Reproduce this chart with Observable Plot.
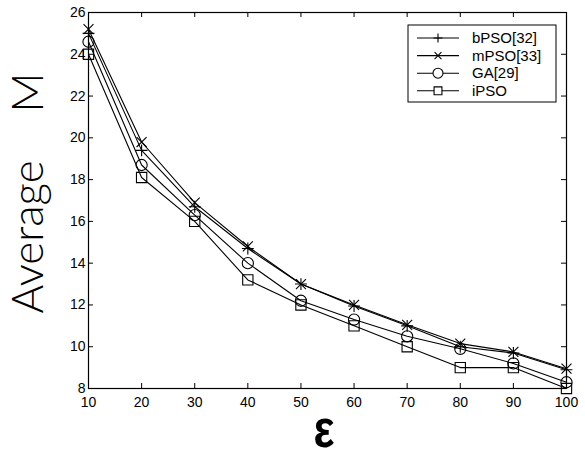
<!DOCTYPE html>
<html>
<head>
<meta charset="utf-8">
<script src="https://cdn.jsdelivr.net/npm/d3@7"></script>
<script src="https://cdn.jsdelivr.net/npm/@observablehq/plot@0.6"></script>
<style>
  html, body { margin: 0; padding: 0; background: #fff; }
  #chart { position: relative; width: 585px; height: 457px; }
</style>
</head>
<body>
<div id="chart"></div>
<script>
// ---- data ----
const epsilon = [10, 20, 30, 40, 50, 60, 70, 80, 90, 100];
const bPSO = [25.0, 19.4, 16.7, 14.7, 13.0, 11.95, 11.0, 10.0, 9.7, 8.9];
const mPSO = [25.2, 19.8, 16.9, 14.8, 13.0, 12.0, 11.05, 10.15, 9.75, 8.95];
const GA   = [24.6, 18.7, 16.3, 14.0, 12.2, 11.3, 10.5, 9.9, 9.2, 8.3];
const iPSO = [24.0, 18.1, 16.0, 13.2, 12.0, 11.0, 10.0, 9.0, 9.0, 8.0];
const seriesNames = ["bPSO[32]", "mPSO[33]", "GA[29]", "iPSO"];
const seriesSymbols = ["plus", "times", "circle", "square"];
const seriesR = [3.9, 4.6, 5.6, 5.8];
const legendR = [3.0, 3.2, 5.0, 5.0];
const xTicks = [10, 20, 30, 40, 50, 60, 70, 80, 90, 100];
const yTicks = [8, 10, 12, 14, 16, 18, 20, 22, 24, 26];
const xLabel = "\u03b5";
const yLabel = "Average\u00a0\u00a0\u00a0\u00a0M";

const values = [bPSO, mPSO, GA, iPSO];
const rows = [];
values.forEach((vals, s) => vals.forEach((v, i) => rows.push({series: seriesNames[s], x: epsilon[i], y: v})));

const W = 585, H = 457;
const mL = 88, mR = 19, mT = 12, mB = 69;
const innerW = W - mL - mR, innerH = H - mT - mB;
const font = "Liberation Sans, Arial, Helvetica, sans-serif";

const marks = [
  Plot.tickX(xTicks, {x: d => d, insetTop: innerH - 5, stroke: "black", strokeWidth: 1}),
  Plot.tickX(xTicks, {x: d => d, insetBottom: innerH - 5, stroke: "black", strokeWidth: 1}),
  Plot.tickY(yTicks, {y: d => d, insetRight: innerW - 5, stroke: "black", strokeWidth: 1}),
  Plot.tickY(yTicks, {y: d => d, insetLeft: innerW - 5, stroke: "black", strokeWidth: 1}),
  Plot.axisX({ticks: xTicks, tickSize: 0, tickPadding: 9, tickFormat: d => String(d), label: null, fontSize: 14, fill: "black"}),
  Plot.axisY({ticks: yTicks, tickSize: 0, tickPadding: 3, tickFormat: d => String(d), label: null, fontSize: 14, fill: "black"}),
];
seriesNames.forEach((name, s) => {
  const data = rows.filter(d => d.series === name);
  marks.push(Plot.line(data, {x: "x", y: "y", stroke: "black", strokeWidth: 1.1}));
  marks.push(Plot.dot(data, {x: "x", y: "y", symbol: () => seriesSymbols[s], r: seriesR[s], stroke: "black", fill: "none", strokeWidth: 1.1}));
});
marks.push(Plot.frame({stroke: "black", strokeWidth: 1.2}));

const plot = Plot.plot({
  width: W, height: H,
  marginLeft: mL, marginRight: mR, marginTop: mT, marginBottom: mB,
  style: {fontFamily: font, background: "white", color: "black", overflow: "visible"},
  x: {domain: [10, 100]},
  y: {domain: [8, 26]},
  marks
});
document.getElementById("chart").appendChild(plot);

const svg = d3.select(plot);
// axis titles
svg.append("text")
  .attr("transform", "translate(27,193) rotate(-90)")
  .attr("text-anchor", "middle").attr("dy", "0.358em")
  .attr("font-family", "Lato, 'Liberation Sans', Arial, sans-serif").attr("font-weight", 300)
  .attr("font-size", 44).attr("fill", "black")
  .text(yLabel);
svg.append("text")
  .attr("transform", "translate(324,447) scale(0.82,1)")
  .attr("text-anchor", "middle")
  .attr("font-family", font).attr("font-size", 54).attr("font-weight", "bold").attr("fill", "black")
  .text(xLabel);

// legend
const lg = svg.append("g").attr("font-family", font).attr("font-size", 15).attr("text-anchor", "start");
lg.append("rect").attr("x", 408).attr("y", 25).attr("width", 148).attr("height", 77)
  .attr("fill", "white").attr("stroke", "black").attr("stroke-width", 1);
const symGen = {plus: d3.symbolPlus, times: d3.symbolTimes, circle: d3.symbolCircle, square: d3.symbolSquare2};
seriesNames.forEach((name, s) => {
  const y = 38 + s * 17.6;
  lg.append("line").attr("x1", 417).attr("x2", 459).attr("y1", y).attr("y2", y).attr("stroke", "black").attr("stroke-width", 1.1);
  const r = legendR[s];
  lg.append("path").attr("transform", `translate(438,${y})`)
    .attr("d", d3.symbol(symGen[seriesSymbols[s]], Math.PI * r * r)())
    .attr("fill", seriesSymbols[s] === "circle" || seriesSymbols[s] === "square" ? "white" : "none")
    .attr("stroke", "black").attr("stroke-width", 1.1);
  lg.append("text").attr("x", 472).attr("y", y).attr("dy", "0.35em").attr("fill", "black").text(name);
});
</script>
</body>
</html>
